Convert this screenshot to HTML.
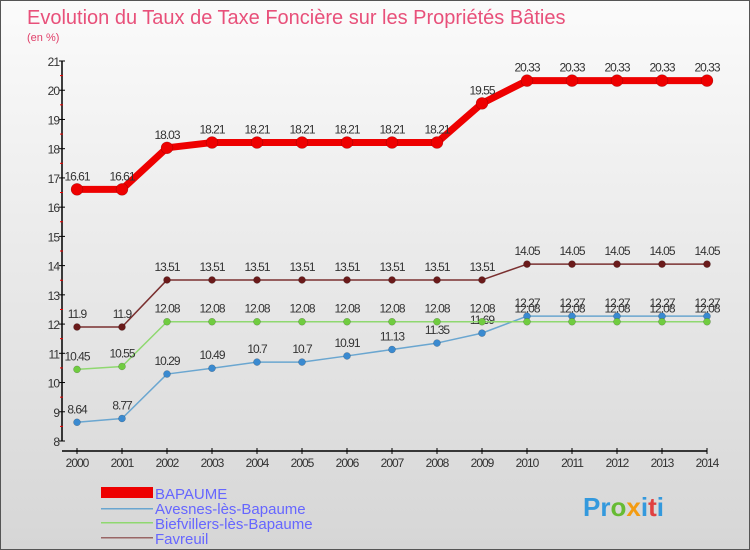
<!DOCTYPE html>
<html><head><meta charset="utf-8"><style>
body{margin:0}
#c{width:750px;height:550px;position:relative;overflow:hidden;background:linear-gradient(#fbfbfb,#d6d6d6);box-sizing:border-box;border:1px solid #555;font-family:"Liberation Sans",sans-serif}
</style></head><body>
<div id="c">
<svg id="s" width="750" height="550" style="position:absolute;left:0;top:0">
<text x="26" y="23" font-size="20" fill="#e8507a" font-weight="normal">Evolution du Taux de Taxe Foncière sur les Propriétés Bâties</text>
<text x="26" y="40" font-size="11" fill="#e0406a">(en %)</text>
<g id="axes"></g><g id="series"></g>
<g>
<rect x="100" y="486" width="52" height="11" fill="#e00"/>
<text x="154" y="498" font-size="15" fill="#6666ff">BAPAUME</text>
<rect x="100" y="507" width="52" height="1.5" fill="#6aa6d0"/>
<text x="154" y="513" font-size="15" fill="#6666ff">Avesnes-lès-Bapaume</text>
<rect x="100" y="521" width="52" height="1.5" fill="#8fd870"/>
<text x="154" y="528" font-size="15" fill="#6666ff">Biefvillers-lès-Bapaume</text>
<rect x="100" y="536" width="52" height="1.5" fill="#996666"/>
<text x="154" y="543" font-size="15" fill="#6666ff">Favreuil</text>
</g>
<text x="582" y="515" font-size="26" font-weight="bold" fill="#3399dd">Pr<tspan fill="#66bb33">o</tspan><tspan fill="#f39c12">x</tspan><tspan fill="#3399dd">i</tspan><tspan fill="#e04040">t</tspan><tspan fill="#3399dd">i</tspan></text>
</svg>
</div>
<script>
const years=[2000,2001,2002,2003,2004,2005,2006,2007,2008,2009,2010,2011,2012,2013,2014];
const yTicks=[8,9,10,11,12,13,14,15,16,17,18,19,20,21];
const bapaume=[16.61,16.61,18.03,18.21,18.21,18.21,18.21,18.21,18.21,19.55,20.33,20.33,20.33,20.33,20.33];
const avesnes=[8.64,8.77,10.29,10.49,10.7,10.7,10.91,11.13,11.35,11.69,12.27,12.27,12.27,12.27,12.27];
const biefvillers=[10.45,10.55,12.08,12.08,12.08,12.08,12.08,12.08,12.08,12.08,12.08,12.08,12.08,12.08,12.08];
const favreuil=[11.9,11.9,13.51,13.51,13.51,13.51,13.51,13.51,13.51,13.51,14.05,14.05,14.05,14.05,14.05];
const NS="http://www.w3.org/2000/svg";
const X=i=>76+i*45, Y=v=>440-(v-8)*(380/13);
function mk(t,a,p){const e=document.createElementNS(NS,t);for(const k in a)e.setAttribute(k,a[k]);p.appendChild(e);return e;}
const ax=document.getElementById('axes');
let e=mk('line',{x1:61,y1:60,x2:61,y2:440,stroke:'#000','stroke-width':1.5},ax);


e=mk('line',{x1:61,y1:450,x2:706,y2:450,stroke:'#000','stroke-width':1.5},ax);


yTicks.forEach(v=>{
 mk('line',{x1:58,y1:Y(v),x2:64,y2:Y(v),stroke:'#000'},ax);
 if(v<21)mk('line',{x1:59,y1:Y(v+0.5),x2:62,y2:Y(v+0.5),stroke:'#e00'},ax);
 const t=mk('text',{x:58,y:Y(v)+5,'font-size':12,fill:'#333','text-anchor':'end','letter-spacing':'-1'},ax);
 t.textContent=v;
 
 
});
years.forEach((y,i)=>{
 mk('line',{x1:X(i),y1:447,x2:X(i),y2:453,stroke:'#000'},ax);
 const t=mk('text',{x:X(i),y:466,'font-size':12,fill:'#333','text-anchor':'middle','letter-spacing':'-1'},ax);
 t.textContent=y;
 
 
});
const sg=document.getElementById('series');
function series(d,name,col,dot,w,r){
 const g=mk('g',{},sg);
 
 
 const p=mk('polyline',{points:d.map((v,i)=>X(i)+','+Y(v)).join(' '),fill:'none',stroke:col,'stroke-width':w,'stroke-linejoin':'round'},g);
 
 
 d.forEach((v,i)=>{
  const c=mk('circle',{cx:X(i),cy:Y(v),r:r,fill:dot,stroke:'rgba(0,0,0,0.3)','stroke-width':0.5},g);
  
  
  const t=mk('text',{x:X(i),y:Y(v)-9,'font-size':12,fill:'#333','text-anchor':'middle','letter-spacing':'-1'},g);
  t.textContent=v;
  
  
 });
}
series(avesnes,'avesnes','#6aa6d0','#3a8ad0',1.5,3.5);
series(biefvillers,'biefvillers','#8fd870','#70cc40',1.5,3.5);
series(favreuil,'favreuil','#7a3030','#6a1a1a',1.5,3.5);
series(bapaume,'bapaume','#e00','#e00',7,6);
</script>
</body></html>
